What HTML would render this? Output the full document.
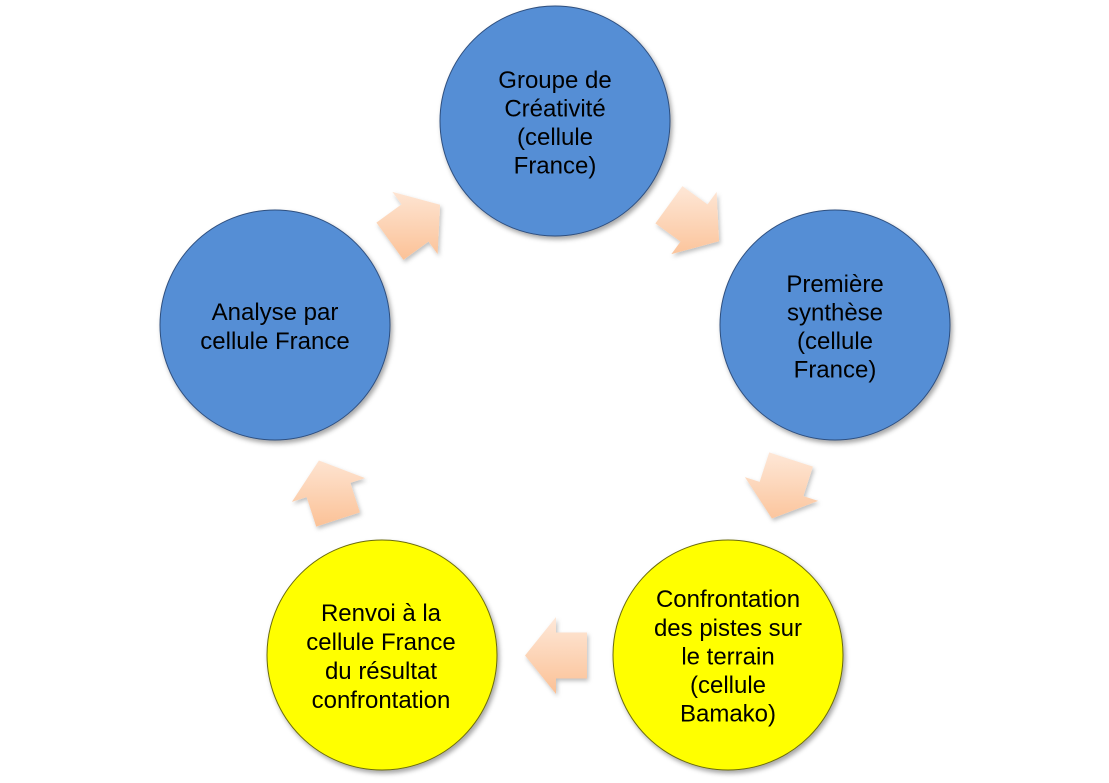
<!DOCTYPE html>
<html>
<head>
<meta charset="utf-8">
<style>
  html, body { margin: 0; padding: 0; background: #ffffff; }
  body { width: 1109px; height: 783px; overflow: hidden; }
  svg { display: block; }
  text { font-family: "Liberation Sans", sans-serif; font-size: 24px; fill: #000; text-anchor: middle; }
</style>
</head>
<body>
<svg width="1109" height="783" viewBox="0 0 1109 783" xmlns="http://www.w3.org/2000/svg">
  <defs>
    <filter id="sh" x="-20%" y="-20%" width="140%" height="140%">
      <feDropShadow dx="2" dy="3" stdDeviation="2.5" flood-color="#000" flood-opacity="0.35"/>
    </filter>
    <filter id="sha" x="-30%" y="-30%" width="160%" height="160%">
      <feDropShadow dx="1.5" dy="2.5" stdDeviation="2" flood-color="#000" flood-opacity="0.25"/>
    </filter>
    <linearGradient id="g36" gradientUnits="userSpaceOnUse" x1="-23.5" y1="-32.4" x2="23.5" y2="32.4">
      <stop offset="0" stop-color="#fee9da"/><stop offset="1" stop-color="#fbc094"/>
    </linearGradient>
    <linearGradient id="g108" gradientUnits="userSpaceOnUse" x1="-38" y1="12.4" x2="38" y2="-12.4">
      <stop offset="0" stop-color="#fee9da"/><stop offset="1" stop-color="#fbc094"/>
    </linearGradient>
    <linearGradient id="g180" gradientUnits="userSpaceOnUse" x1="0" y1="40" x2="0" y2="-40">
      <stop offset="0" stop-color="#fee9da"/><stop offset="1" stop-color="#fbc094"/>
    </linearGradient>
    <linearGradient id="g252" gradientUnits="userSpaceOnUse" x1="38" y1="12.4" x2="-38" y2="-12.4">
      <stop offset="0" stop-color="#fee9da"/><stop offset="1" stop-color="#fbc094"/>
    </linearGradient>
    <linearGradient id="g324" gradientUnits="userSpaceOnUse" x1="23.5" y1="-32.4" x2="-23.5" y2="32.4">
      <stop offset="0" stop-color="#fee9da"/><stop offset="1" stop-color="#fbc094"/>
    </linearGradient>
  </defs>

  <!-- Arrows -->
  <g filter="url(#sha)">
    <g transform="translate(694,223) rotate(36)">
      <polygon points="-31,-23 0,-23 0,-38.5 31,0 0,38.5 0,23 -31,23" fill="url(#g36)"/>
    </g>
    <g transform="translate(781.5,489) rotate(108)">
      <polygon points="-31,-23 0,-23 0,-38.5 31,0 0,38.5 0,23 -31,23" fill="url(#g108)"/>
    </g>
    <g transform="translate(556,655.5) rotate(180)">
      <polygon points="-31,-23 0,-23 0,-38.5 31,0 0,38.5 0,23 -31,23" fill="url(#g180)"/>
    </g>
    <g transform="translate(328.5,490) rotate(252)">
      <polygon points="-31,-23 0,-23 0,-38.5 31,0 0,38.5 0,23 -31,23" fill="url(#g252)"/>
    </g>
    <g transform="translate(415,223) rotate(324)">
      <polygon points="-31,-23 0,-23 0,-38.5 31,0 0,38.5 0,23 -31,23" fill="url(#g324)"/>
    </g>
  </g>

  <!-- Circles -->
  <g filter="url(#sh)">
    <circle cx="555" cy="121" r="115" fill="#558ed5" stroke="#2f4f7f" stroke-width="1"/>
    <circle cx="835" cy="325" r="115" fill="#558ed5" stroke="#2f4f7f" stroke-width="1"/>
    <circle cx="728" cy="655" r="115" fill="#ffff00" stroke="#6b6b10" stroke-width="1"/>
    <circle cx="382" cy="655" r="115" fill="#ffff00" stroke="#6b6b10" stroke-width="1"/>
    <circle cx="275" cy="325" r="115" fill="#558ed5" stroke="#2f4f7f" stroke-width="1"/>
  </g>

  <!-- Labels -->
  <text x="555" y="88">Groupe de</text>
  <text x="555" y="116.5">Créativité</text>
  <text x="555" y="145">(cellule</text>
  <text x="555" y="173.5">France)</text>

  <text x="835" y="292">Première</text>
  <text x="835" y="320.5">synthèse</text>
  <text x="835" y="349">(cellule</text>
  <text x="835" y="377.5">France)</text>

  <text x="728" y="607">Confrontation</text>
  <text x="728" y="636">des pistes sur</text>
  <text x="728" y="664.5">le terrain</text>
  <text x="728" y="693">(cellule</text>
  <text x="728" y="721.5">Bamako)</text>

  <text x="381" y="621">Renvoi à la</text>
  <text x="381" y="650">cellule France</text>
  <text x="381" y="679">du résultat</text>
  <text x="381" y="708">confrontation</text>

  <text x="275" y="320">Analyse par</text>
  <text x="275" y="349">cellule France</text>
</svg>
</body>
</html>
